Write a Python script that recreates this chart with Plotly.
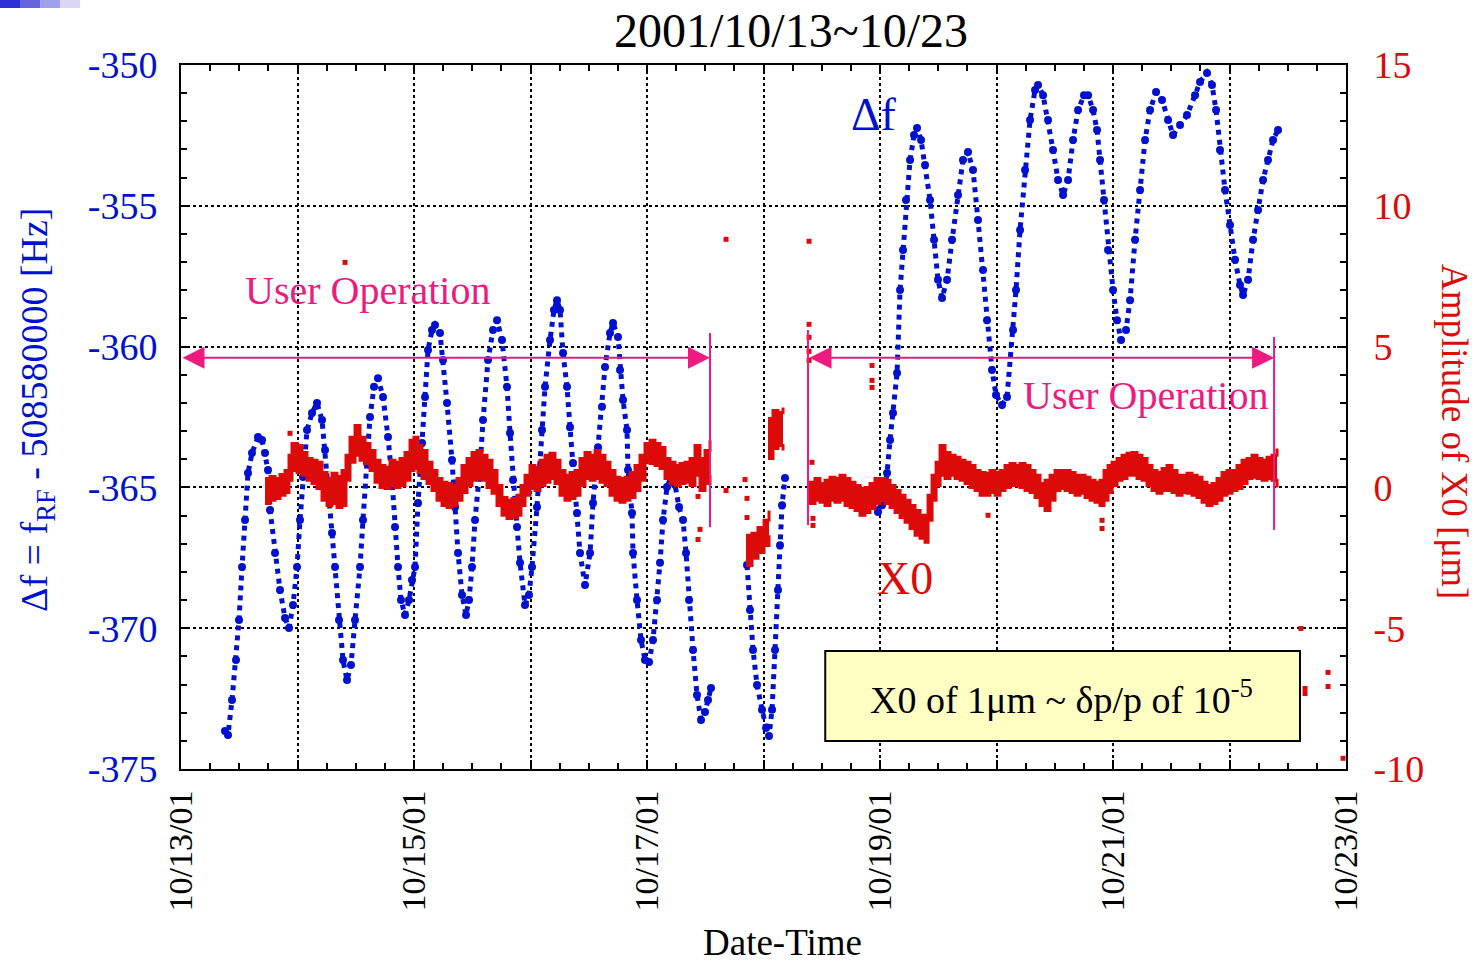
import pandas as pd
import plotly.graph_objects as go

# ---------------- data (hours after 2001-10-13 00:00) ----------------
base = pd.Timestamp("2001-10-13")

df_hours_1 = [9.06, 9.68, 10.51, 11.33, 11.95, 12.57, 13.19, 13.80, 14.63, 15.86, 16.69, 17.31, 17.92, 18.34,
              19.37, 20.40, 21.43, 22.25, 23.07, 23.90, 24.52, 25.13, 25.96, 26.99, 28.02, 29.05, 29.67, 30.28,
              31.11, 31.73, 32.55, 33.37, 34.20, 35.02, 35.85, 36.88, 37.49, 38.32, 38.94, 39.76, 40.59, 41.62,
              42.65, 43.47, 44.09, 44.71, 45.32, 46.15, 46.97, 47.59, 48.21, 48.83, 49.65, 50.27, 50.89, 51.71,
              52.33, 53.36, 53.98, 54.80, 55.83, 56.45, 57.07, 57.89, 58.72, 59.33, 59.95, 60.57, 61.60, 62.22,
              63.25, 64.28, 65.10, 66.13, 67.16, 67.78, 68.40, 69.22, 69.84, 70.87, 71.69, 72.31, 73.34, 74.37,
              74.99, 76.02, 76.84, 77.46, 78.08, 78.70, 79.52, 80.14, 80.76, 81.58, 82.20, 83.23, 84.27, 84.88,
              85.91, 86.73, 87.35, 88.38, 89.00, 90.03, 90.44, 91.06, 91.88, 92.09, 92.91, 93.12, 93.94, 94.77,
              95.59, 96.42, 97.24, 98.06, 98.68, 99.30, 100.12, 100.95, 101.77, 102.60, 103.42, 104.04, 104.66,
              105.48, 106.30, 107.13, 107.95, 108.57, 109.19]
df_hz_1 = [-373.65, -373.79, -372.55, -371.13, -369.71, -367.83, -366.16, -364.49, -363.78, -363.21, -363.32,
           -363.78, -364.38, -365.80, -367.33, -368.64, -369.64, -369.99, -369.18, -367.83, -366.16, -364.63,
           -362.96, -362.36, -362.00, -362.61, -363.67, -364.99, -366.62, -367.83, -369.71, -371.13, -371.84,
           -371.31, -369.71, -367.83, -366.16, -364.13, -362.50, -361.43, -361.12, -361.79, -363.21, -364.74,
           -366.41, -367.83, -369.00, -369.53, -369.00, -368.29, -367.83, -365.55, -363.42, -361.79, -360.12,
           -359.41, -359.23, -359.52, -360.48, -362.00, -364.03, -365.70, -367.33, -368.82, -369.53, -369.00,
           -367.83, -366.16, -364.28, -362.61, -360.48, -359.41, -359.06, -359.77, -361.43, -363.07, -364.74,
           -366.41, -367.68, -369.18, -368.82, -367.83, -365.70, -362.96, -361.43, -359.77, -358.70, -358.35,
           -358.70, -360.23, -361.43, -362.86, -364.13, -365.91, -367.33, -368.47, -367.33, -365.55, -363.57,
           -362.14, -360.72, -359.52, -359.16, -359.66, -360.83, -361.90, -362.96, -364.38, -365.91, -367.33,
           -369.00, -370.42, -371.13, -371.20, -370.42, -369.00, -367.68, -366.16, -364.99, -364.63, -364.91,
           -365.70, -366.16, -367.33, -369.00, -370.77, -372.37, -373.26, -372.98, -372.55, -372.12]

df_hours_2 = [116.60, 117.22, 117.84, 118.66, 119.69, 120.52, 121.14, 121.76, 122.37, 122.99, 123.40, 123.82, 124.43]
df_hz_2 = [-367.76, -369.35, -370.77, -372.02, -372.90, -373.54, -373.83, -372.90, -370.77, -368.64, -367.05,
           -365.63, -364.67]

df_hours_3 = [142.56, 143.59, 144.42, 145.45, 146.07, 146.68, 147.51, 148.13, 148.74, 149.36, 150.19, 151.01,
              151.63, 152.45, 153.28, 154.31, 155.13, 155.95, 156.78, 157.81, 158.84, 160.07, 161.10, 162.13,
              163.16, 164.19, 165.22, 166.05, 167.08, 167.90, 169.14, 170.17, 171.41, 172.02, 172.85, 173.88,
              174.91, 175.94, 176.56, 177.59, 178.62, 179.65, 180.68, 181.71, 182.74, 183.77, 184.80, 186.03,
              186.86, 187.89, 188.71, 189.33, 190.15, 190.98, 192.01, 192.83, 193.65, 194.68, 195.51, 196.54,
              197.57, 198.60, 199.63, 200.87, 202.10, 203.34, 204.37, 205.81, 207.25, 208.90, 209.93, 211.37,
              212.40, 213.23, 214.05, 215.08, 216.11, 217.14, 218.17, 218.79, 219.82, 220.85, 221.88, 222.91,
              223.94, 224.97, 226.00]
df_hz_3 = [-365.34, -365.87, -365.63, -364.49, -363.32, -362.36, -360.94, -357.99, -356.57, -354.79, -353.37,
           -352.49, -352.24, -352.66, -353.55, -354.79, -356.21, -357.63, -358.27, -357.63, -356.21, -354.62,
           -353.37, -353.09, -353.73, -355.50, -357.28, -359.06, -360.83, -361.72, -362.07, -361.79, -359.41,
           -357.99, -355.86, -353.73, -351.95, -350.89, -350.71, -351.07, -351.95, -353.02, -354.08, -354.62,
           -354.08, -352.66, -351.60, -351.07, -351.07, -351.60, -352.31, -353.37, -354.79, -356.57, -357.99,
           -359.06, -359.77, -359.41, -358.35, -356.21, -354.44, -352.66, -351.60, -350.96, -351.24, -351.95,
           -352.49, -352.13, -351.78, -351.07, -350.60, -350.28, -350.71, -351.60, -353.02, -354.44, -355.68,
           -356.92, -357.81, -358.17, -357.63, -356.21, -355.15, -354.08, -353.37, -352.66, -352.31]

# X0 amplitude band [um]: upper / lower edges of the scatter band
x0_hours_a = [17.31, 18.34, 19.37, 20.40, 21.43, 22.25, 22.87, 23.90, 24.93, 25.96, 26.99, 28.02, 29.05, 30.08,
              31.11, 32.14, 33.17, 33.99, 34.82, 35.85, 36.88, 37.91, 38.94, 39.97, 41.00, 42.03, 43.06, 44.09,
              45.12, 46.15, 47.18, 48.00, 48.83, 49.65, 50.68, 51.71, 52.74, 53.77, 54.80, 55.83, 56.86, 57.89,
              58.92, 59.95, 60.98, 62.01, 63.04, 64.07, 65.10, 66.13, 67.16, 68.19, 69.22, 70.04, 70.87, 71.90,
              72.93, 73.96, 74.99, 76.02, 77.05, 78.08, 79.11, 80.14, 81.17, 82.20, 83.23, 84.27, 85.30, 86.32,
              87.35, 88.38, 89.41, 90.44, 91.47, 92.50, 93.53, 94.56, 95.59, 96.62, 97.65, 98.68, 99.71, 100.74,
              101.77, 102.80, 103.83, 104.86, 105.89, 106.92, 107.95, 108.98]
x0_hi_a = [0.32, 0.39, 0.32, 0.46, 0.60, 1.14, 1.56, 1.49, 1.24, 1.03, 0.96, 0.89, 0.53, 0.32, 0.50, 0.39, 0.60,
           1.14, 1.78, 2.20, 1.78, 1.56, 1.31, 0.96, 0.78, 0.71, 0.96, 0.89, 1.03, 1.24, 1.67, 1.78, 1.49, 1.31,
           0.89, 0.60, 0.32, 0.18, 0.14, 0.07, 0.32, 0.78, 1.03, 1.24, 1.31, 1.14, 0.96, 0.60, 0.07, -0.36,
           -0.46, -0.39, -0.28, 0.07, 0.43, 0.78, 0.71, 0.96, 1.14, 1.21, 0.96, 0.60, 0.43, 0.53, 0.60, 1.03,
           1.24, 1.14, 1.31, 1.14, 0.89, 0.60, 0.36, 0.32, 0.36, 0.53, 0.78, 1.14, 1.56, 1.67, 1.56, 1.42, 1.03,
           0.89, 0.78, 0.85, 0.89, 1.03, 1.49, 1.03, 1.31, 1.67]
x0_lo_a = [-0.57, -0.46, -0.39, -0.28, -0.18, 0.25, 0.60, 0.53, 0.43, 0.25, 0.14, -0.04, -0.46, -0.64, -0.57,
           -0.71, -0.64, 0.25, 0.89, 1.14, 0.96, 0.85, 0.60, 0.18, 0.00, -0.04, 0.07, 0.00, 0.07, 0.25, 0.60,
           0.67, 0.53, 0.32, 0.14, -0.11, -0.46, -0.64, -0.71, -0.64, -0.46, -0.18, 0.07, 0.25, 0.32, 0.25, 0.00,
           -0.21, -0.64, -0.99, -1.10, -1.07, -0.99, -0.64, -0.28, -0.04, -0.11, 0.07, 0.18, 0.32, 0.14, -0.28,
           -0.46, -0.39, -0.28, 0.07, 0.32, 0.25, 0.32, 0.18, 0.07, -0.28, -0.46, -0.53, -0.46, -0.36, -0.11,
           0.25, 0.89, 0.85, 0.78, 0.67, 0.32, 0.14, 0.07, 0.14, 0.18, 0.07, 0.43, -0.11, 0.14, 0.43]

x0_hours_b = [116.40, 117.63, 118.87, 120.11, 121.14]
x0_hi_b = [-1.70, -1.63, -1.42, -1.17, -0.82]
x0_lo_b = [-2.77, -2.52, -2.31, -2.06, -1.70]

x0_hours_c = [120.93, 121.96, 122.99, 124.02]
x0_hi_c = [2.45, 2.73, 2.66, 2.84]
x0_lo_c = [1.03, 1.38, 1.49, 1.31]

x0_hours_d = [129.38, 130.61, 131.64, 132.67, 133.70, 134.73, 135.76, 136.79, 137.82, 138.85, 139.88, 140.91,
              141.94, 142.97, 144.01, 145.04, 146.07, 147.10, 148.13, 149.16, 150.19, 151.22, 152.25, 153.28,
              153.90, 154.72, 155.55, 156.37, 157.40, 158.43, 159.46, 160.49, 161.52, 162.55, 163.58, 164.61,
              165.64, 166.67, 167.70, 168.73, 169.76, 170.79, 171.82, 172.85, 173.88, 174.91, 175.94, 176.97,
              178.00, 179.03, 180.06, 181.09, 182.12, 183.15, 184.18, 185.21, 186.24, 187.27, 188.30, 189.33,
              190.15, 190.98, 191.81, 192.83, 193.86, 194.89, 195.92, 196.95, 197.98, 199.01, 200.04, 201.07,
              202.10, 203.13, 204.16, 205.19, 206.22, 207.25, 208.28, 209.31, 210.34, 211.37, 212.40, 213.43,
              214.46, 215.49, 216.52, 217.55, 218.58, 219.61, 220.64, 221.67, 222.70, 223.73, 224.76, 225.79]
x0_hi_d = [0.18, 0.32, 0.14, 0.25, 0.36, 0.32, 0.43, 0.32, 0.18, 0.07, -0.04, 0.00, 0.14, 0.32, 0.32, 0.25,
           0.07, -0.11, -0.28, -0.46, -0.64, -0.82, -0.99, -1.10, -0.28, 0.43, 0.89, 1.49, 1.24, 1.14, 1.07,
           0.96, 0.89, 0.78, 0.60, 0.53, 0.50, 0.60, 0.53, 0.60, 0.78, 0.85, 0.78, 0.85, 0.78, 0.60, 0.43, 0.14,
           0.25, 0.43, 0.60, 0.60, 0.60, 0.53, 0.43, 0.43, 0.36, 0.25, 0.18, 0.25, 0.60, 0.78, 0.89, 1.03, 1.14,
           1.21, 1.24, 1.14, 1.03, 0.78, 0.60, 0.53, 0.67, 0.78, 0.60, 0.43, 0.43, 0.50, 0.43, 0.36, 0.18, 0.07,
           0.14, 0.32, 0.53, 0.60, 0.60, 0.78, 0.96, 1.03, 1.14, 1.03, 0.96, 1.07, 1.14, 1.38]
x0_lo_d = [-0.57, -0.46, -0.53, -0.64, -0.46, -0.53, -0.46, -0.64, -0.71, -0.82, -0.99, -0.89, -0.75, -0.57,
           -0.46, -0.57, -0.71, -0.89, -1.07, -1.24, -1.46, -1.70, -1.81, -1.95, -1.17, -0.46, 0.07, 0.43, 0.32,
           0.43, 0.32, 0.25, 0.14, 0.00, -0.11, -0.28, -0.28, -0.18, -0.28, -0.11, 0.00, 0.07, 0.07, 0.00, -0.11,
           -0.18, -0.36, -0.64, -0.82, -0.46, -0.11, -0.04, -0.11, -0.18, -0.28, -0.21, -0.36, -0.46, -0.53,
           -0.64, -0.46, -0.18, 0.07, 0.25, 0.32, 0.43, 0.43, 0.32, 0.25, 0.07, -0.11, -0.21, -0.11, -0.11,
           -0.18, -0.28, -0.18, -0.21, -0.28, -0.36, -0.53, -0.64, -0.57, -0.46, -0.28, -0.21, -0.11, -0.04,
           0.14, 0.32, 0.36, 0.32, 0.25, 0.32, 0.25, 0.00]

# isolated X0 readings
x0_out_hours = [22.46, 33.79, 106.51, 106.92, 106.51, 112.28, 112.28, 116.19, 116.60, 116.60, 129.38, 129.38,
                129.38, 129.38, 129.38, 129.99, 130.20, 130.20, 142.36, 142.36, 142.36, 166.26, 189.74, 189.74,
                230.71, 231.56, 231.56, 236.30, 236.30, 239.39]
x0_out_um = [1.92, 7.99, -0.32, -1.49, -1.85, 8.81, -0.11, 0.28, -0.39, -1.07, 8.74, 5.79, 5.33, 4.83, 4.51,
             0.89, -1.10, -1.35, 4.33, 3.80, 3.55, -0.99, -1.17, -1.46, -5.01, -7.14, -7.32, -6.57, -7.07, -9.62]

# "User Operation" periods (hours) and bracket heights (Hz, left axis)
op_start = [0.0, 129.17]
op_end = [108.98, 225.18]
op_arrow_hz = -360.4
op_bar_top = [-359.52, -359.41, -359.66]
op_bar_bot = [-366.41, -366.34, -366.51]
op_bar_hours = [108.98, 129.17, 225.18]

left_ticks = [-375, -370, -365, -360, -355, -350]
right_ticks = [-10, -5, 0, 5, 10, 15]

# ---------------- helpers ----------------
def T(hours):
    return list(base + pd.to_timedelta(hours, unit="h"))


BLUE = "#0012cf"
RED = "#dd0a0a"
PINK = "#ee1a80"
FONT = "Liberation Serif, Times New Roman, serif"
X_START = base
X_END = base + pd.Timedelta(days=10)

fig = go.Figure()

# X0 bands (right axis)
for hrs, hi, lo in [(x0_hours_a, x0_hi_a, x0_lo_a), (x0_hours_b, x0_hi_b, x0_lo_b),
                    (x0_hours_c, x0_hi_c, x0_lo_c), (x0_hours_d, x0_hi_d, x0_lo_d)]:
    fig.add_trace(go.Scatter(x=T(hrs), y=hi, yaxis="y2", mode="lines",
                             line=dict(color=RED, width=3, shape="hv"), showlegend=False))
    fig.add_trace(go.Scatter(x=T(hrs), y=lo, yaxis="y2", mode="lines", fill="tonexty",
                             fillcolor=RED, line=dict(color=RED, width=3, shape="hv"), showlegend=False))

fig.add_trace(go.Scatter(x=T(x0_out_hours), y=x0_out_um, yaxis="y2", mode="markers",
                         marker=dict(symbol="square", size=5, color=RED), showlegend=False))

# delta f (left axis)
for hrs, vals in [(df_hours_1, df_hz_1), (df_hours_2, df_hz_2), (df_hours_3, df_hz_3)]:
    fig.add_trace(go.Scatter(x=T(hrs), y=vals, mode="lines+markers",
                             line=dict(color=BLUE, width=5, dash="dot"),
                             marker=dict(size=8, color=BLUE), showlegend=False))

# empty trace that carries the 6-hour minor tick axis
fig.add_trace(go.Scatter(x=[X_START], y=[None], xaxis="x2", yaxis="y", mode="markers",
                         showlegend=False, hoverinfo="skip"))

# ---------------- annotations / shapes ----------------
shapes = []
annotations = []

for h, y0, y1 in zip(op_bar_hours, op_bar_top, op_bar_bot):
    t = T([h])[0]
    shapes.append(dict(type="line", xref="x", yref="y", x0=t, x1=t, y0=y0, y1=y1,
                       line=dict(color=PINK, width=2)))

for s, e in zip(op_start, op_end):
    ts, te = T([s])[0], T([e])[0]
    annotations.append(dict(x=te, y=op_arrow_hz, ax=ts, ay=op_arrow_hz, xref="x", yref="y",
                            axref="x", ayref="y", text="", showarrow=True, arrowhead=2,
                            arrowside="end+start", arrowsize=2.2, arrowwidth=2, arrowcolor=PINK,
                            standoff=0, startstandoff=0))

# yellow note box
shapes.append(dict(type="rect", xref="paper", yref="paper", x0=0.553, x1=0.9605, y0=0.0398, y1=0.1676,
                   fillcolor="#ffffc4", line=dict(color="black", width=2), layer="above"))

# small decorative gradient bar in the corner
for i, c in enumerate(["#2e2ed6", "#6464de", "#a0a0ea", "#d8d8f6"]):
    shapes.append(dict(type="rect", xref="paper", yref="paper", x0=-0.1554 + i * 0.0172,
                       x1=-0.1554 + (i + 1) * 0.0172, y0=1.081, y1=1.0923, fillcolor=c, line=dict(width=0)))


def txt(x, y, text, size, color, angle=0):
    return dict(x=x, y=y, xref="paper", yref="paper", text=text, showarrow=False, textangle=angle,
                font=dict(family=FONT, size=size, color=color), xanchor="center", yanchor="middle")


annotations += [
    txt(0.5236, 1.049, "2001/10/13~10/23", 48, "black"),
    txt(0.5159, -0.246, "Date-Time", 37, "black"),
    txt(-0.1236, 0.51, "Δf = f<sub>RF</sub> - 508580000 [Hz]", 38, BLUE, -90),
    txt(1.0927, 0.4787, "Amplitude of X0 [μm]", 37, RED, 90),
    txt(0.1605, 0.680, "User Operation", 40, PINK),
    txt(0.8275, 0.531, "User Operation", 40, PINK),
    txt(0.5948, 0.929, "Δf", 46, BLUE),
    txt(0.6215, 0.2713, "X0", 46, RED),
    txt(0.7562, 0.1023, "X0 of 1μm ~ δp/p of 10<sup>-5</sup>", 38, "black"),
]

DAY = 86400000
tick_style = dict(ticks="inside", tickcolor="black", tickwidth=1.5)

fig.update_layout(
    width=1479, height=967,
    margin=dict(l=181, r=133, t=65, b=198),
    paper_bgcolor="white", plot_bgcolor="white",
    font=dict(family=FONT, color="black"),
    shapes=shapes, annotations=annotations,
    xaxis=dict(type="date", range=[X_START, X_END], tick0=X_START, dtick=2 * DAY, tickformat="%m/%d/%y",
               tickangle=-90, tickfont=dict(size=34, color="black"),
               showgrid=True, gridcolor="black", griddash="dot", gridwidth=2,
               showline=True, linecolor="black", linewidth=2, mirror="ticks",
               ticklen=9, ticklabelstandoff=6, **tick_style,
               minor=dict(tick0=X_START, dtick=DAY, ticks="inside", ticklen=9, tickcolor="black",
                          tickwidth=1.5, showgrid=True, gridcolor="black", griddash="dot", gridwidth=2),
               zeroline=False),
    xaxis2=dict(type="date", overlaying="x", anchor="y", side="bottom", range=[X_START, X_END],
                tick0=X_START, dtick=DAY / 4, showticklabels=False, showgrid=False,
                showline=True, linecolor="black", linewidth=2, mirror="ticks", ticklen=6, **tick_style,
                zeroline=False),
    yaxis=dict(range=[-375, -350], tickmode="array", tickvals=left_ticks,
               ticktext=[f"{v:d}" for v in left_ticks],
               tickfont=dict(size=38, color=BLUE), showgrid=True, gridcolor="black", griddash="dot",
               gridwidth=2, showline=True, linecolor="black", linewidth=2, mirror="ticks",
               ticklen=9, ticklabelstandoff=14, **tick_style,
               minor=dict(tick0=-375, dtick=1, ticks="inside", ticklen=6, tickcolor="black", tickwidth=1.5,
                          showgrid=False),
               zeroline=False),
    yaxis2=dict(range=[-10, 15], overlaying="y", side="right", tickmode="array", tickvals=right_ticks,
                ticktext=[f"{v:d}" for v in right_ticks],
                tickfont=dict(size=38, color=RED), showgrid=False, showline=True, linecolor="black",
                linewidth=2, ticklen=9, ticklabelstandoff=18, **tick_style,
                minor=dict(tick0=-10, dtick=1, ticks="inside", ticklen=6, tickcolor="black", tickwidth=1.5),
                zeroline=False),
)

fig.write_html("out.html", config={"displayModeBar": False},
               post_script="document.body.style.margin='0';")
